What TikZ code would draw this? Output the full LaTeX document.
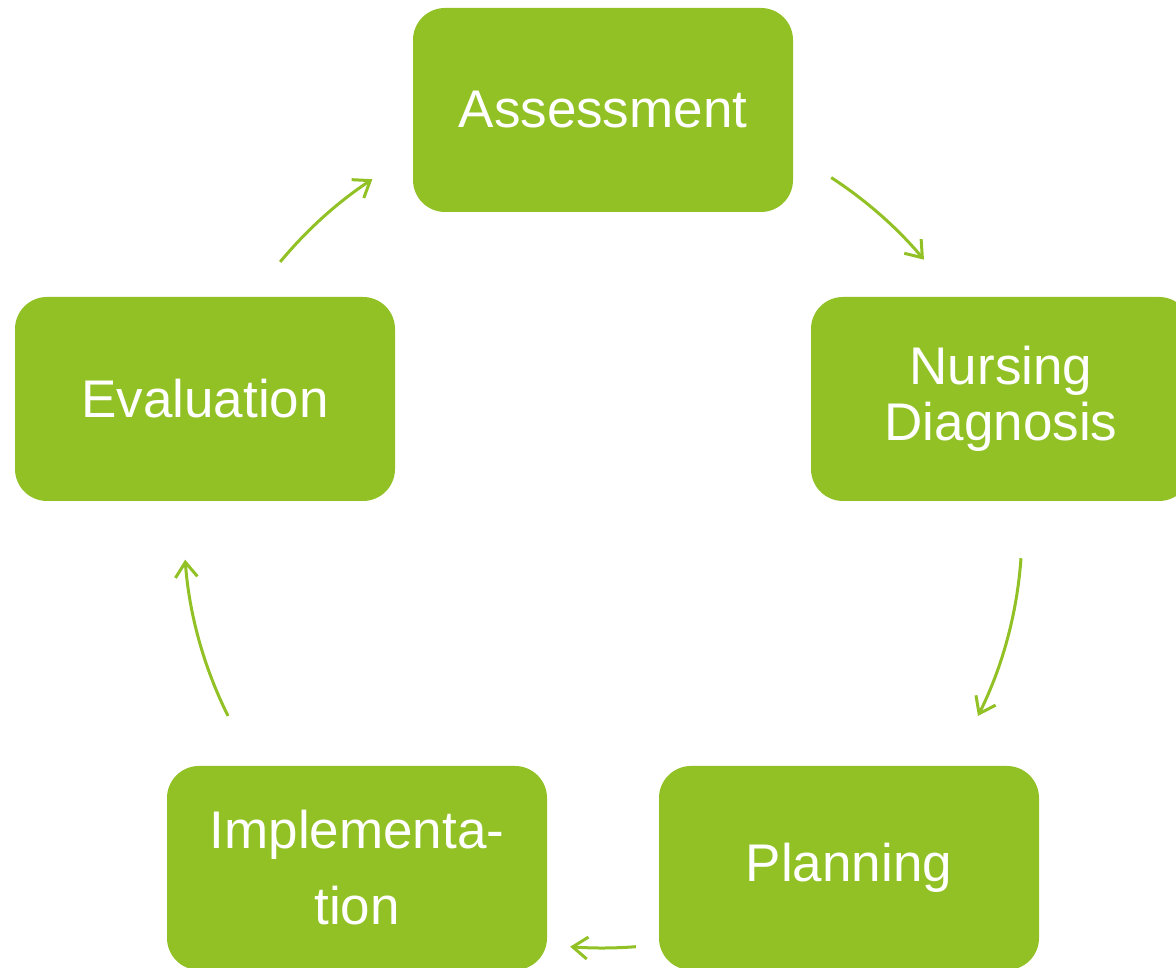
\documentclass[tikz,border=0pt]{standalone}
\usepackage{fontspec}
\setmainfont{Liberation Sans}
\usetikzlibrary{arrows.meta,positioning}
\definecolor{leaf}{RGB}{146,193,38}

\begin{document}
\begin{tikzpicture}[x=1pt, y=1pt,
  stage/.style = {rectangle, rounded corners=32pt, fill=leaf, text=white,
    minimum width=380pt, minimum height=204pt, inner sep=0pt, align=center,
    font=\fontsize{53}{56}\selectfont},
  cycarrow/.style = {draw=leaf, line width=3pt,
    -{Straight Barb[length=15pt,width=22pt,line width=3pt]}}]

  \useasboundingbox (0,0) rectangle (1176,968);

  % the five stages
  \node[stage] (asm) at (603,858) {Assessment};
  \node[stage] (dia) at (1001,569) {Nursing\\Diagnosis};
  \node[stage] (pla) at (849,100) {Planning};
  \node[stage] (imp) at (357,100) {Implementa-\\[20pt]tion};
  \node[stage] (eva) at (205,569) {Evaluation};

  % arrows on the cycle
  \coordinate (c) at (603,439);
  \begin{scope}[shift={(c)}]
    \coordinate (a1) at (57:419pt);
    \coordinate (a2) at (-4:419pt);
    \coordinate (a3) at (-85.5:419pt);
    \coordinate (a4) at (206.5:419pt);
    \coordinate (a5) at (140.4:419pt);
  \end{scope}
  \draw[cycarrow] (a1) arc[start angle=57, end angle=40, radius=419pt];
  \draw[cycarrow] (a2) arc[start angle=-4, end angle=-26.5, radius=419pt];
  \draw[cycarrow] (a3) arc[start angle=-85.5, end angle=-94.5, radius=419pt];
  \draw[cycarrow] (a4) arc[start angle=206.5, end angle=184.2, radius=419pt];
  \draw[cycarrow] (a5) arc[start angle=140.4, end angle=123.4, radius=419pt];

\end{tikzpicture}
\end{document}
